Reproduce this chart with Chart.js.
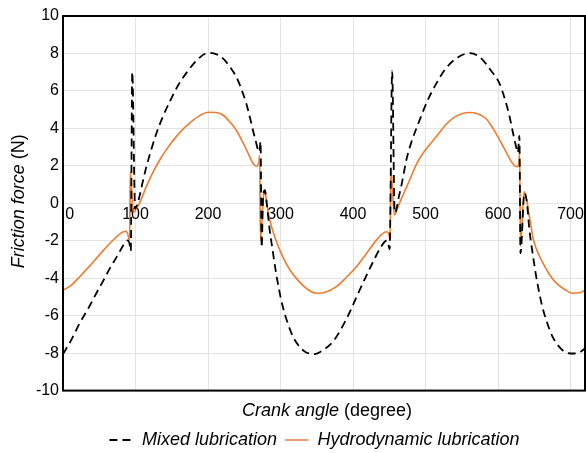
<!DOCTYPE html>
<html>
<head>
<meta charset="utf-8">
<script src="https://cdn.jsdelivr.net/npm/chart.js@4"></script>
<style>
  html, body { margin: 0; padding: 0; background: #fff; }
  #wrap { width: 586px; height: 453px; overflow: hidden; }
  #box { position: relative; width: 586px; height: 460px; }
</style>
</head>
<body>
<div id="wrap"><div id="box"><canvas id="friction"></canvas></div></div>
<script>
(function () {
    'use strict';

    // ====== Data ======
    const xTicks = [0, 100, 200, 300, 400, 500, 600, 700];
    const yTicks = [-10, -8, -6, -4, -2, 0, 2, 4, 6, 8, 10];

    const mixedAngle = [0, 12, 23, 35, 46, 56, 65, 75, 83, 87,
        89.5, 92, 93.5, 95.5, 99.5, 102, 106, 110, 115, 122,
        129, 138, 147, 158, 170, 185, 200, 212, 221, 230,
        239, 246, 253, 258, 262, 266, 269, 271, 272.5, 274,
        276, 278.5, 281, 285, 289.5, 294, 298.5, 303, 310, 317,
        325, 335, 347, 358, 372, 383, 395, 406, 418, 428,
        439, 446, 448, 450.5, 454, 457.5, 460, 463, 466.5, 470,
        473.5, 480, 492, 503, 515, 528, 545, 561, 575, 590,
        602, 610, 616, 621, 625, 627.5, 629.5, 631, 636.5, 640,
        643, 647.5, 652, 656.5, 661, 668, 675, 683, 693, 705,
        713, 720];
    const mixedForce = [-8.05, -7.25, -6.4, -5.6, -4.8, -4.1, -3.45, -2.8, -2.25, -2.02,
        -1.98, -2.2, -2.55, 7.0, -0.3, -0.1, 0.45, 1.15, 1.95, 2.9,
        3.75, 4.65, 5.4, 6.25, 6.95, 7.65, 8.03, 7.95, 7.72, 7.3,
        6.75, 6.1, 5.3, 4.55, 3.9, 3.3, 2.85, 2.75, 3.3, -2.35,
        0.3, 0.7, 0.0, -1.4, -2.6, -3.75, -4.7, -5.5, -6.4, -7.1,
        -7.6, -7.95, -8.05, -7.85, -7.4, -6.75, -5.85, -4.9, -3.9, -3.1,
        -2.3, -2.0, -2.05, -2.45, 7.05, -0.5, -0.3, 0.3, 0.9, 1.6,
        2.3, 3.2, 4.45, 5.5, 6.4, 7.2, 7.8, 8.02, 7.8, 7.1,
        6.4, 5.5, 4.62, 3.7, 3.02, 2.7, 3.6, -2.67, 0.55, 0.0,
        -1.3, -2.6, -3.75, -4.7, -5.5, -6.4, -7.1, -7.6, -7.95, -8.02,
        -7.95, -7.75];

    const hydroAngle = [0, 12, 23, 35, 46, 56, 65, 75, 83, 87,
        89, 91, 92, 92.8, 97, 100, 106, 115, 124, 134,
        145, 157, 168, 180, 190, 200, 211, 221, 230, 239,
        248, 255, 261, 265, 267.5, 270, 271.2, 272.3, 277.5, 280,
        283, 288, 294, 303, 313, 324, 336, 349, 362, 377,
        391, 405, 419, 432, 440, 446, 449, 451, 452.3, 457,
        461, 466, 472, 478, 489, 502, 515, 527, 538, 550,
        561, 572, 584, 593, 602, 611, 618, 623, 627, 628.8,
        629.8, 631, 636, 639, 642, 645, 648, 652, 657, 662,
        671, 680, 692, 703, 712, 720];
    const hydroForce = [-4.65, -4.35, -3.92, -3.42, -2.94, -2.5, -2.12, -1.75, -1.52, -1.5,
        -1.6, -1.9, -1.95, 1.7, -0.5, -0.35, 0.05, 0.9, 1.65, 2.35,
        3.0, 3.6, 4.05, 4.45, 4.72, 4.86, 4.85, 4.7, 4.35, 3.9,
        3.25, 2.7, 2.2, 2.0, 1.98, 2.2, 2.55, -1.96, 0.7, 0.3,
        -0.5, -1.3, -2.0, -2.85, -3.56, -4.1, -4.55, -4.8, -4.75, -4.45,
        -3.95, -3.38, -2.65, -1.98, -1.65, -1.52, -1.6, -1.95, 1.78, -0.62,
        -0.3, 0.18, 0.7, 1.24, 2.2, 2.95, 3.56, 4.15, 4.55, 4.78,
        4.85, 4.78, 4.5, 4.0, 3.4, 2.75, 2.25, 2.0, 1.96, 2.2,
        2.67, -2.3, 0.62, 0.3, -0.4, -1.1, -1.8, -2.35, -2.8, -3.2,
        -3.8, -4.25, -4.6, -4.8, -4.78, -4.63];

    const FONT = "'Liberation Sans', Arial, sans-serif";
    const pairs = (xs, ys) => xs.map((x, i) => ({ x: x, y: ys[i] }));

    // ====== Axis titles (italic + upright parts) and plot frame ======
    function mixedText(ctx, cx, cy, italicPart, plainPart) {
        ctx.font = 'italic 18px ' + FONT;
        const w1 = ctx.measureText(italicPart).width;
        ctx.font = '18px ' + FONT;
        const w2 = ctx.measureText(plainPart).width;
        let x = cx - (w1 + w2) / 2;
        ctx.textAlign = 'left';
        ctx.textBaseline = 'middle';
        ctx.fillStyle = '#000';
        ctx.font = 'italic 18px ' + FONT;
        ctx.fillText(italicPart, x, cy);
        ctx.font = '18px ' + FONT;
        ctx.fillText(plainPart, x + w1, cy);
    }

    const decor = {
        id: 'decor',
        afterLayout(chart) {
            // centre the legend under the plot like the original figure
            const lg = chart.legend;
            if (lg) { lg.left += 4; lg.right += 4; }
        },
        afterDatasetsDraw(chart) {
            const { ctx, chartArea: a } = chart;
            ctx.save();
            ctx.strokeStyle = '#000';
            ctx.lineWidth = 2;
            ctx.strokeRect(a.left, a.top, a.right - a.left, a.bottom - a.top);
            ctx.restore();
        },
        afterDraw(chart) {
            const { ctx, chartArea: a } = chart;
            ctx.save();
            mixedText(ctx, (a.left + a.right) / 2 + 3, a.bottom + 20, 'Crank angle ', '(degree)');
            ctx.translate(19, (a.top + a.bottom) / 2 - 2);
            ctx.rotate(-Math.PI / 2);
            mixedText(ctx, 0, 0, 'Friction force ', '(N)');
            ctx.restore();
        }
    };

    new Chart(document.getElementById('friction'), {
        type: 'line',
        data: {
            datasets: [{
                label: 'Mixed lubrication',
                data: pairs(mixedAngle, mixedForce),
                borderColor: '#000',
                backgroundColor: 'rgba(0,0,0,0)',
                borderWidth: 1.8,
                borderDash: [8, 5],
                pointRadius: 0,
                cubicInterpolationMode: 'monotone',
                xAxisID: 'x',
                yAxisID: 'y'
            }, {
                label: 'Hydrodynamic lubrication',
                data: pairs(hydroAngle, hydroForce),
                borderColor: '#ed7d31',
                backgroundColor: 'rgba(0,0,0,0)',
                borderWidth: 1.6,
                pointRadius: 0,
                cubicInterpolationMode: 'monotone',
                xAxisID: 'x',
                yAxisID: 'y'
            }]
        },
        options: {
            responsive: true,
            maintainAspectRatio: false,
            animation: false,
            devicePixelRatio: 1,
            layout: { padding: { left: 36, right: 1, top: 16, bottom: 1 } },
            scales: {
                x: {
                    type: 'linear',
                    min: 0,
                    max: 720,
                    position: { y: 0 },
                    afterBuildTicks: (s) => { s.ticks = xTicks.map(v => ({ value: v })); },
                    ticks: {
                        color: '#000',
                        font: { family: FONT, size: 16 },
                        padding: 2,
                        maxRotation: 0,
                        autoSkip: false,
                        callback: (v) => (v === 0 ? '   0' : String(v))
                    },
                    grid: { color: '#e3e3e3', drawTicks: false },
                    border: { display: false }
                },
                xb: {
                    type: 'linear',
                    position: 'bottom',
                    ticks: { display: false },
                    grid: { display: false },
                    border: { display: false },
                    afterFit: (s) => { s.height = 32.4; }
                },
                y: {
                    type: 'linear',
                    min: -10,
                    max: 10,
                    afterBuildTicks: (s) => { s.ticks = yTicks.map(v => ({ value: v })); },
                    ticks: {
                        color: '#000',
                        font: { family: FONT, size: 16 },
                        padding: 4
                    },
                    grid: { color: '#e3e3e3', drawTicks: false },
                    border: { display: false },
                    afterFit: (s) => { s.width = 27; }
                }
            },
            plugins: {
                legend: {
                    position: 'bottom',
                    labels: {
                        boxWidth: 23.5,
                        boxHeight: 0,
                        padding: 8,
                        color: '#000',
                        font: { family: FONT, size: 18, style: 'italic' }
                    }
                },
                tooltip: { enabled: false }
            }
        },
        plugins: [decor]
    });
})();
</script>
</body>
</html>
